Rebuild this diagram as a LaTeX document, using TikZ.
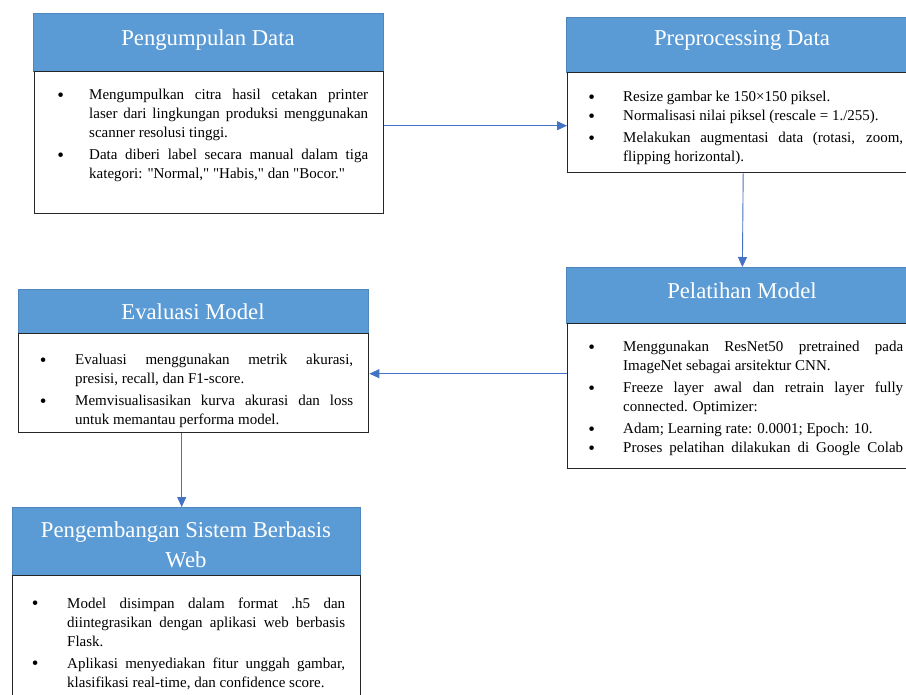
\documentclass[tikz,border=0pt]{standalone}
\usepackage{fontspec}
\setmainfont{Liberation Serif}[Ligatures=TeXOff]
\usetikzlibrary{arrows.meta}
\definecolor{hdr}{HTML}{5B9BD5}
\definecolor{hdrline}{HTML}{4F87BD}
\definecolor{arr}{HTML}{4472C4}
\newcommand{\bitem}[2]{\par\noindent\hangindent=#1\hangafter=1\makebox[#1][l]{\kern-0.8pt\raisebox{-1.6pt}{\fontsize{19}{19}\selectfont\textbullet}}#2\par}
\newcommand{\igap}{\vspace{3pt}}
\tikzset{
  hdrbox/.style={draw=hdrline, fill=hdr, line width=0.8pt, inner sep=0, anchor=north west},
  bodybox/.style={draw=black!85, fill=white, line width=1.4pt, inner sep=0, anchor=north west},
  ttl/.style={text=white, inner sep=0, align=center, font=\fontsize{22.7}{30}\selectfont},
  txt/.style={anchor=base west, inner sep=0, align=justify, text=black, font=\fontsize{15}{19}\selectfont},
  conn/.style={draw=arr, line width=0.9pt, -{Triangle[length=10pt,width=9pt]}}
}
\begin{document}
\begin{tikzpicture}[x=1pt,y=-1pt]
\clip (0,0) rectangle (906,695);
\fill[white] (0,0) rectangle (906,695);
% Box 1
\node[hdrbox, minimum width=350pt, minimum height=58pt] (h1) at (33,13) {};
\node[bodybox, minimum width=349pt, minimum height=142pt] (b1) at (34,71) {};
\node[ttl] (t1) at (208,40) {Pengumpulan Data};
\node[txt, text width=310pt] (x1) at (58,81) {%
\bitem{31pt}{Mengumpulkan citra hasil cetakan printer\linebreak laser dari lingkungan produksi menggunakan\linebreak scanner resolusi tinggi.}\igap
\bitem{31pt}{Data diberi label secara manual dalam tiga\linebreak kategori: "Normal," "Habis," dan "Bocor."}};
% Box 2
\node[hdrbox, minimum width=352pt, minimum height=55pt] (h2) at (566,17) {};
\node[bodybox, minimum width=351pt, minimum height=100pt] (b2) at (567,72) {};
\node[ttl] (t2) at (742,40) {Preprocessing Data};
\node[txt, text width=314pt] (x2) at (589,83) {%
\bitem{34pt}{Resize gambar ke 150×150 piksel.}
\bitem{34pt}{Normalisasi nilai piksel (rescale = 1./255).}\igap
\bitem{34pt}{Melakukan augmentasi data (rotasi, zoom,\linebreak flipping horizontal).}};
% Box 3
\node[hdrbox, minimum width=352pt, minimum height=56pt] (h3) at (566,267) {};
\node[bodybox, minimum width=351pt, minimum height=145pt] (b3) at (567,323) {};
\node[ttl] (t3) at (742,291) {Pelatihan Model};
\node[txt, text width=314pt] (x3) at (589,333) {%
\bitem{34pt}{Menggunakan ResNet50 pretrained pada\linebreak ImageNet sebagai arsitektur CNN.}\igap
\bitem{34pt}{Freeze layer awal dan retrain layer fully\linebreak connected. Optimizer:}\igap
\bitem{34pt}{Adam; Learning rate: 0.0001; Epoch: 10.}
\bitem{34pt}{Proses pelatihan dilakukan di Google Colab\parfillskip=0pt}};
% Box 4
\node[hdrbox, minimum width=350pt, minimum height=44pt] (h4) at (18,289) {};
\node[bodybox, minimum width=350pt, minimum height=99pt] (b4) at (18,333) {};
\node[ttl] (t4) at (193,312) {Evaluasi Model};
\node[txt, text width=312.5pt] (x4) at (40.5,346) {%
\bitem{34.5pt}{Evaluasi menggunakan metrik akurasi,\linebreak presisi, recall, dan F1-score.}\igap
\bitem{34.5pt}{Memvisualisasikan kurva akurasi dan loss\linebreak untuk memantau performa model.}};
% Box 5
\node[hdrbox, minimum width=348pt, minimum height=68pt] (h5) at (12,507) {};
\node[bodybox, minimum width=348pt, minimum height=140pt] (b5) at (12,575) {};
\node[ttl] (t5) at (186,545) {Pengembangan Sistem Berbasis\\Web};
\node[txt, text width=312.5pt] (x5) at (32.5,589) {%
\bitem{34.5pt}{Model disimpan dalam format .h5 dan\linebreak diintegrasikan dengan aplikasi web berbasis\linebreak Flask.}\igap
\bitem{34.5pt}{Aplikasi menyediakan fitur unggah gambar,\linebreak klasifikasi real-time, dan confidence score.}};
% Connectors
\draw[conn] ([yshift=17pt]b1.east) -- ([yshift=17pt]b1.east -| b2.west);
\draw[conn] (b2.south) -- (h3.north);
\draw[conn] ([yshift=22.5pt]b3.west) -- ([yshift=22.5pt]b3.west -| b4.east);
\draw[conn] ([xshift=-12pt]b4.south) -- ([xshift=-12pt]b4.south |- h5.north);
\end{tikzpicture}
\end{document}
